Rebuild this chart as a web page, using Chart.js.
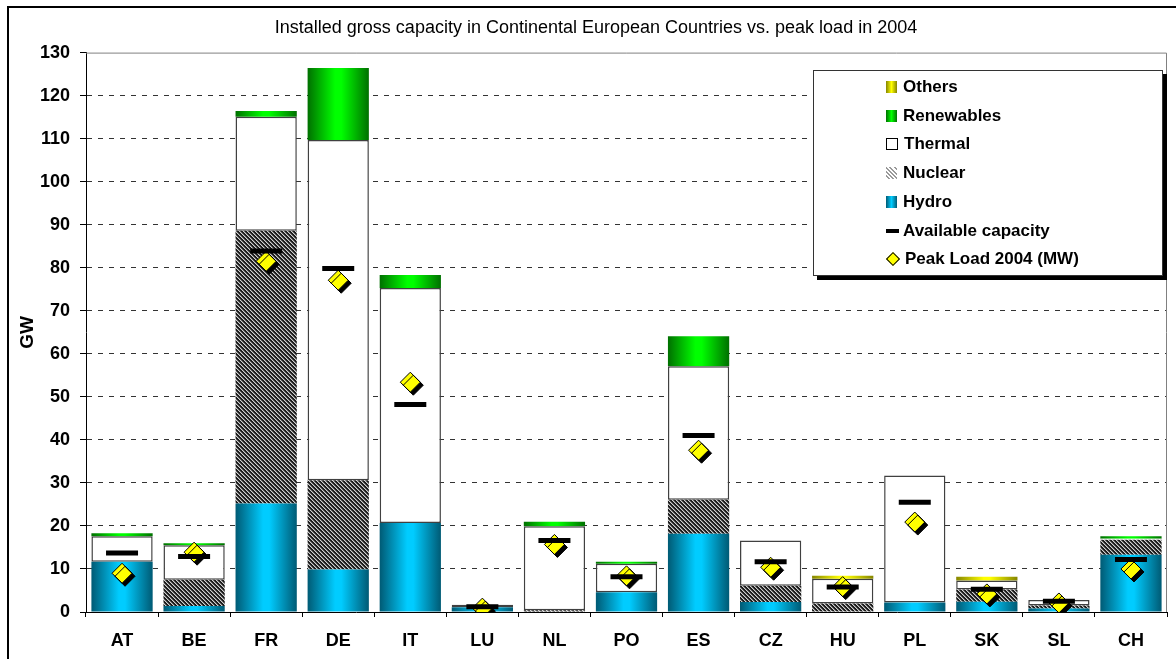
<!DOCTYPE html>
<html>
<head>
<meta charset="utf-8">
<script src="https://cdn.jsdelivr.net/npm/chart.js@4.4.0/dist/chart.umd.min.js"></script>
<style>
  html, body { margin: 0; padding: 0; background: #fff; }
  #wrap { position: relative; width: 1176px; height: 659px; overflow: hidden; }
  #frame { position: absolute; left: 7px; top: 6px; width: 1200px; height: 700px; border: 2px solid #000; box-sizing: border-box; pointer-events: none; }
  #legend { position: absolute; left: 813px; top: 70px; width: 350px; height: 206px; border: 1px solid #333; box-sizing: border-box; background: #fff; box-shadow: 4px 4px 0 #000; font: bold 17px "Liberation Sans", Arial, sans-serif; color: #000; }
  .row { position: absolute; left: 72px; height: 20px; display: flex; align-items: center; white-space: nowrap; }
  .ic { width: 11px; height: 12px; margin-right: 6px; box-sizing: border-box; flex: none; }
</style>
</head>
<body>
<div id="wrap">
  <canvas id="chart" width="1176" height="659"></canvas>
  <div id="frame"></div>
  <div id="legend"></div>
</div>
<script>
// Data (GW)
const countries = ['AT', 'BE', 'FR', 'DE', 'IT', 'LU', 'NL', 'PO', 'ES', 'CZ', 'HU', 'PL', 'SK', 'SL', 'CH'];
const hydro      = [11.7, 1.4, 25.2,  9.9, 20.7, 1.1, 0.0, 4.6, 18.2, 2.3, 0.1,  2.2, 2.4, 0.8, 13.3];
const nuclear    = [ 0.0, 6.1, 63.4, 20.7,  0.0, 0.0, 0.4, 0.0,  7.9, 3.8, 1.9,  0.0, 2.8, 0.7,  3.5];
const thermal    = [ 5.9, 8.0, 26.5, 79.1, 54.6, 0.6, 19.5, 6.6, 31.0, 10.5, 5.7, 29.5, 2.1, 1.3, 0.2];
const renewables = [ 0.7, 0.5,  1.3, 16.7,  3.0, 0.0, 1.1, 0.5,  7.0, 0.0, 0.0,  0.0, 0.0, 0.0,  0.6];
const others     = [ 0.0, 0.0,  0.0,  0.0,  0.0, 0.0, 0.0, 0.0,  0.0, 0.0, 0.7,  0.0, 0.9, 0.0,  0.0];
const available  = [13.7, 12.9, 83.9, 79.8, 48.2, 1.2, 16.6, 8.2, 41.0, 11.7, 5.8, 25.5, 5.3, 2.5, 12.2];
const peakLoad   = [ 9.0, 13.9, 81.5, 77.1, 53.4, 0.9, 15.7, 8.4, 37.6, 10.4, 5.9, 20.9, 4.2, 2.1, 10.0];

const FONT = '"Liberation Sans", Arial, sans-serif';
const BAR_PCT = 0.85;

// cylinder-like horizontal gradient across each bar
function cylinder(dark, light) {
    return (c) => {
        if (c.type !== 'data' || !c.chart.scales || !c.chart.scales.x) return light;
        const xs = c.chart.scales.x;
        const cx = xs.getPixelForValue(c.dataIndex);
        const half = xs.width / countries.length * BAR_PCT / 2;
        if (!isFinite(cx) || !isFinite(half) || half <= 0) return light;
        const g = c.chart.ctx.createLinearGradient(cx - half, 0, cx + half, 0);
        g.addColorStop(0, dark);
        g.addColorStop(0.45, light);
        g.addColorStop(0.55, light);
        g.addColorStop(1, dark);
        return g;
    };
}

// diagonal hatch for nuclear
function hatch() {
    const c = document.createElement('canvas');
    c.width = 4; c.height = 4;
    const g = c.getContext('2d');
    g.fillStyle = '#1c1c1c';
    g.fillRect(0, 0, 4, 4);
    for (let i = 0; i < 4; i++) {
        g.fillStyle = '#d0d0d0';
        g.fillRect(i, i, 1, 1);
        g.fillStyle = '#6a6a6a';
        g.fillRect((i + 1) % 4, i, 1, 1);
    }
    return g.createPattern(c, 'repeat');
}

const barBase = { type: 'bar', stack: 'cap', order: 2, borderWidth: 0, categoryPercentage: BAR_PCT, barPercentage: 1 };

// shadow under the peak-load diamonds
const shadowPlugin = {
    id: 'diamondShadow',
    beforeDatasetDraw(chart, args) {
        if (args.meta.label !== 'Peak Load 2004 (MW)') return;
        const ctx = chart.ctx;
        ctx.save();
        ctx.shadowColor = '#000';
        ctx.shadowOffsetX = 3;
        ctx.shadowOffsetY = 3;
        ctx.shadowBlur = 0;
    },
    afterDatasetDraw(chart, args) {
        if (args.meta.label !== 'Peak Load 2004 (MW)') return;
        chart.ctx.restore();
    }
};

// grey frame round the plot area (top / right)
const plotFrame = {
    id: 'plotFrame',
    beforeDatasetsDraw(chart) {
        const { ctx, chartArea: a } = chart;
        ctx.save();
        ctx.strokeStyle = '#808080';
        ctx.lineWidth = 1;
        ctx.beginPath();
        ctx.moveTo(a.left, a.top + 0.5);
        ctx.lineTo(a.right - 0.5, a.top + 0.5);
        ctx.lineTo(a.right - 0.5, a.bottom);
        ctx.stroke();
        ctx.restore();
    }
};

const chart = new Chart(document.getElementById('chart'), {
    data: {
        labels: countries,
        datasets: [
            { ...barBase, label: 'Hydro', data: hydro, backgroundColor: cylinder('#005a74', '#00ccff') },
            { ...barBase, label: 'Nuclear', data: nuclear, backgroundColor: hatch() },
            {
                ...barBase, label: 'Thermal', data: thermal, backgroundColor: '#ffffff',
                borderColor: '#404040', borderSkipped: false,
                borderWidth: (c) => (c.raw >= 0.5 ? 1.5 : 0)
            },
            { ...barBase, label: 'Renewables', data: renewables, backgroundColor: cylinder('#007000', '#00ff00') },
            { ...barBase, label: 'Others', data: others, backgroundColor: cylinder('#858500', '#ffff00') },
            {
                type: 'line', label: 'Available capacity', data: available, stack: 'avail', order: 0,
                showLine: false, pointStyle: 'line', pointRadius: 16, pointHoverRadius: 16,
                pointBorderWidth: 5, pointBorderColor: '#000', borderColor: '#000'
            },
            {
                type: 'line', label: 'Peak Load 2004 (MW)', data: peakLoad, stack: 'peak', order: 1,
                showLine: false, pointStyle: 'rectRot', pointRadius: 10, pointHoverRadius: 10,
                pointBackgroundColor: '#ffff00', pointBorderColor: '#000', pointBorderWidth: 1
            }
        ]
    },
    options: {
        responsive: false,
        animation: false,
        events: [],
        layout: { autoPadding: false, padding: { left: 16, right: 0, top: 10, bottom: 0 } },
        plugins: {
            legend: { display: false },
            tooltip: { enabled: false },
            title: {
                display: true,
                text: 'Installed gross capacity in Continental European Countries vs. peak load in 2004',
                color: '#000',
                font: { family: FONT, size: 18, weight: 'normal' },
                padding: { top: 7, bottom: 14 }
            }
        },
        scales: {
            x: {
                stacked: true,
                afterFit: (s) => { s.height = 47; s.paddingLeft = 0; s.paddingRight = 9; },
                grid: { offset: true, drawOnChartArea: false, drawTicks: true, tickLength: 5, tickColor: '#000' },
                border: { color: '#000', width: 1 },
                ticks: { color: '#000', padding: 13, font: { family: FONT, size: 18, weight: 'bold' } }
            },
            y: {
                stacked: true,
                min: 0,
                max: 130,
                afterFit: (s) => { s.width = 70; },
                grid: {
                    color: (c) => (c.tick && (c.tick.value === 130 || c.tick.value === 0) ? 'rgba(0,0,0,0)' : '#333'),
                    tickColor: '#000',
                    tickLength: 6,
                    lineWidth: 1
                },
                border: { color: '#000', width: 1, dash: [5, 6] },
                ticks: { stepSize: 10, color: '#000', padding: 10, font: { family: FONT, size: 18, weight: 'bold' } },
                title: {
                    display: true, text: 'GW', color: '#000',
                    font: { family: FONT, size: 19, weight: 'bold' },
                    padding: { top: 0, bottom: 0 }
                }
            }
        }
    },
    plugins: [shadowPlugin, plotFrame]
});

// legend box (HTML), same order as the reference
const legendItems = [
    { text: 'Others', css: 'background:linear-gradient(to right,#858500,#ffff00 50%,#858500)' },
    { text: 'Renewables', css: 'background:linear-gradient(to right,#007000,#00ff00 50%,#007000)' },
    { text: 'Thermal', css: 'background:#fff;border:1px solid #000;width:12px;height:12px' },
    { text: 'Nuclear', css: 'background:repeating-linear-gradient(45deg,#fff 0 1.5px,#999 1.5px 3px)' },
    { text: 'Hydro', css: 'background:linear-gradient(to right,#005a74,#00ccff 50%,#005a74)' },
    { text: 'Available capacity', css: 'background:#000;width:13px;height:4px;margin-right:4px' },
    { text: 'Peak Load 2004 (MW)', css: 'background:#ffff00;border:1px solid #000;width:10px;height:10px;transform:rotate(45deg);margin:0 7px 0 2px' }
];
const legendEl = document.getElementById('legend');
legendItems.forEach((item, i) => {
    const row = document.createElement('div');
    row.className = 'row';
    row.style.top = (6 + i * 28.7) + 'px';
    row.innerHTML = `<span class="ic" style="${item.css}"></span><span>${item.text}</span>`;
    legendEl.appendChild(row);
});
</script>
</body>
</html>
